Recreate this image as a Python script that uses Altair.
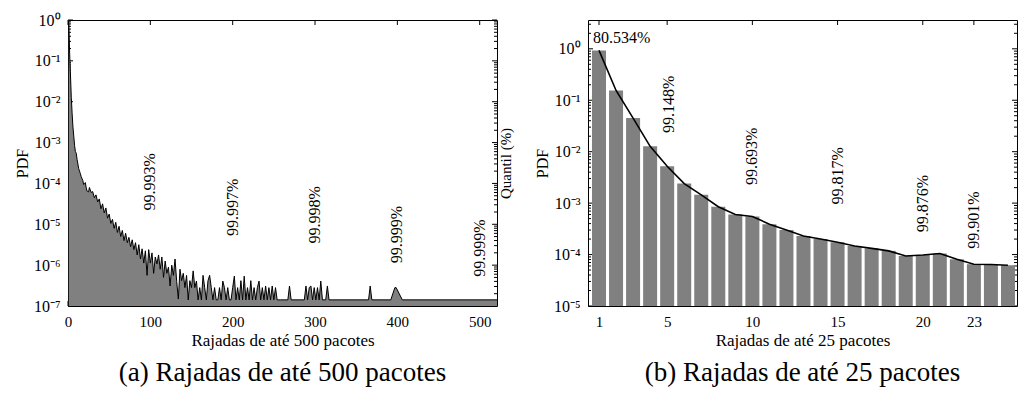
import altair as alt
import pandas as pd

FONT = "Liberation Serif"
GRAY = "#808080"
W, H = 429, 286

# ---------------- panel (b): bursts up to 25 packets ----------------
burst_b = list(range(1, 26))
pdf_b = [0.93, 0.155, 0.045, 0.0127, 0.0052, 0.0024, 0.00145, 0.00085, 0.0006,
         0.00055, 0.00039, 0.0003, 0.00023, 0.0002, 0.000174, 0.000147, 0.000132,
         0.000118, 0.000094, 0.000098, 0.000105, 0.000081, 0.000065, 0.000064,
         0.000062]
q_b_x = [5.1, 10, 15, 20, 23]
q_b_y = [0.083, 0.0081, 0.0034, 0.00098, 0.00047]
q_b_text = ["99.148%", "99.693%", "99.817%", "99.876%", "99.901%"]
q_b_top_x = [0.65]
q_b_top_y = [1.64]
q_b_top_text = ["80.534%"]
xticks_b = [1, 5, 10, 15, 20, 23]

# ---------------- panel (a): bursts up to 500 packets ----------------
# tail (x >= 26) read as log10(PDF)
tail_x_a = [26, 28, 30, 32, 34, 36, 38, 40, 42, 44, 46, 48, 50, 52, 54, 56, 58, 60,
            62, 64, 66, 68, 70, 72, 74, 76, 78, 80, 82, 84, 86, 88, 90, 92, 94, 96,
            98, 100, 102, 104, 106, 108, 110, 112, 114, 116, 118, 120, 122, 124,
            126, 128, 130, 132, 134, 136, 138, 140, 142, 144, 146, 148, 150, 152,
            154, 156, 158, 160, 162, 164, 166, 168, 170, 172, 174, 176, 178, 180,
            182, 184, 186, 188, 190, 192, 194, 196, 198, 200, 202, 204, 206, 208,
            210, 212, 214, 216, 218, 220, 222, 224, 226, 228, 230, 232, 234, 236,
            238, 240, 242, 244, 246, 248, 250, 252, 254, 256, 258, 267, 269, 271,
            287, 289, 291, 293, 295, 297, 299, 301, 303, 305, 307, 309, 313, 315,
            317, 365, 367, 369, 392, 397, 398.5, 406, 521]
tail_log_a = [-4.10, -4.22, -4.20, -4.35, -4.28, -4.45, -4.38, -4.62, -4.50, -4.72,
              -4.60, -4.85, -4.75, -4.98, -4.88, -5.10, -4.95, -5.20, -5.05, -5.30,
              -5.15, -5.40, -5.22, -5.45, -5.32, -5.55, -5.38, -5.62, -5.45, -5.75,
              -5.50, -5.85, -5.60, -5.95, -5.65, -6.25, -5.62, -5.95, -5.70, -6.20,
              -5.80, -5.97, -5.75, -6.10, -5.80, -6.30, -5.90, -6.20, -6.05, -6.51,
              -6.00, -6.25, -5.85, -6.40, -6.83, -6.10, -6.38, -6.20, -6.55, -6.25,
              -6.85, -6.38, -6.55, -6.14, -6.55, -6.39, -6.85, -6.55, -6.85, -6.25,
              -6.55, -6.85, -6.38, -6.25, -6.55, -6.85, -6.55, -6.85, -6.85, -6.55,
              -6.85, -6.39, -6.55, -6.85, -6.55, -6.85, -6.85, -6.55, -6.27, -6.85,
              -6.55, -6.85, -6.38, -6.85, -6.27, -6.85, -6.55, -6.85, -6.38, -6.85,
              -6.55, -6.85, -6.55, -6.39, -6.85, -6.55, -6.85, -6.51, -6.85, -6.55,
              -6.85, -6.51, -6.85, -6.55, -6.85, -6.85, -6.85, -6.85, -6.51, -6.85,
              -6.85, -6.51, -6.85, -6.55, -6.51, -6.85, -6.55, -6.85, -6.55, -6.85,
              -6.39, -6.85, -6.85, -6.51, -6.85, -6.85, -6.51, -6.85, -6.85, -6.55,
              -6.55, -6.85, -6.85]
burst_a = burst_b + tail_x_a
pdf_a = pdf_b + [10 ** e for e in tail_log_a]
q_a_x = [100, 200, 300, 400, 500]
q_a_y = [1.1e-4, 2.6e-5, 1.7e-5, 5.6e-6, 2.6e-6]
q_a_text = ["99.993%", "99.997%", "99.998%", "99.999%", "99.999%"]
xticks_a = [0, 100, 200, 300, 400, 500]

SUP = "['⁰','⁻¹','⁻²','⁻³','⁻⁴','⁻⁵','⁻⁶','⁻⁷']"
LABEL_EXPR = "'10' + " + SUP + "[-round(log(datum.value)/LN10)]"


def tick_layers(xs, ys, xticks, ymin_exp, ymax):
    major = [10.0 ** (-k) for k in range(0, -ymin_exp + 1)]
    minor = [m * 10.0 ** (-k) for k in range(1, -ymin_exp + 1) for m in range(2, 10)]
    minor += [m * 1.0 for m in range(2, 10) if m <= ymax]
    dmaj = pd.DataFrame({"v": major})
    dmin = pd.DataFrame({"v": minor})
    dx = pd.DataFrame({"v": xticks})
    r = lambda d: alt.Chart(d).mark_rule(color="black", strokeWidth=1)
    yv = alt.Y("v:Q", scale=ys, axis=None)
    xv = alt.X("v:Q", scale=xs, axis=None)
    return [
        r(dmaj).encode(y=yv, x=alt.value(0), x2=alt.value(5)),
        r(dmaj).encode(y=yv, x=alt.value(W), x2=alt.value(W - 5)),
        r(dmin).encode(y=yv, x=alt.value(0), x2=alt.value(3)),
        r(dmin).encode(y=yv, x=alt.value(W), x2=alt.value(W - 3)),
        r(dx).encode(x=xv, y=alt.value(0), y2=alt.value(5)),
        r(dx).encode(x=xv, y=alt.value(H), y2=alt.value(H - 5)),
    ]


def y_axis(vals):
    return alt.Axis(orient="left", values=vals, labelExpr=LABEL_EXPR, ticks=False,
                    domain=False, grid=False, title="PDF", titlePadding=2,
                    labelPadding=8, labelFlush=False, labelOverlap=False,
                    labelFontSize=16, titleFontSize=16, minExtent=36,
                    maxExtent=36)


def x_axis(vals, title):
    return alt.Axis(orient="bottom", values=vals, ticks=False, domain=False,
                    grid=False, title=title, labelPadding=8, titlePadding=3,
                    labelFlush=False, labelOverlap=False, labelFontSize=15,
                    titleFontSize=17)


def right_axis(size, pad):
    return alt.Axis(orient="right", labels=False, ticks=False, domain=False,
                    grid=False, title="Quantil (%)", titlePadding=pad,
                    titleAngle=270, titleBaseline="top", titleFontSize=size,
                    minExtent=0, maxExtent=0)


def caption(text):
    return alt.TitleParams(text, orient="bottom", anchor="middle", font=FONT,
                           fontSize=27, fontWeight="normal", color="black",
                           offset=12)


# ---------- panel (a) ----------
xs_a = alt.Scale(domain=[0, 521], nice=False, zero=False, padding=0)
ys_a = alt.Scale(type="log", domain=[1e-7, 1], nice=False, padding=0)
df_a = pd.DataFrame({"x": burst_a, "pdf": pdf_a})
lab_a = pd.DataFrame({"x": q_a_x, "y": q_a_y, "t": q_a_text})

area_a = alt.Chart(df_a).mark_area(color=GRAY, clip=True).encode(
    x=alt.X("x:Q", scale=xs_a, axis=None),
    y=alt.Y("pdf:Q", scale=ys_a, axis=None),
    y2=alt.datum(1e-7),
)
line_a = alt.Chart(df_a).mark_line(color="black", strokeWidth=1, clip=True).encode(
    x=alt.X("x:Q", scale=xs_a, axis=x_axis(xticks_a, "Rajadas de até 500 pacotes")),
    y=alt.Y("pdf:Q", scale=ys_a, axis=y_axis([10.0 ** (-k) for k in range(8)])),
)
text_a = alt.Chart(lab_a).mark_text(angle=270, font=FONT, fontSize=16,
                                    align="center", baseline="middle",
                                    color="black").encode(
    x=alt.X("x:Q", scale=xs_a, axis=None),
    y=alt.Y("y:Q", scale=ys_a, axis=None),
    text="t:N",
)
raxis_a = alt.Chart(df_a).mark_point(opacity=0, size=1).encode(
    x=alt.X("x:Q", scale=xs_a, axis=None),
    y=alt.Y("pdf:Q", scale=ys_a, axis=right_axis(15, 1)),
)
panel_a = alt.layer(
    *tick_layers(xs_a, ys_a, xticks_a, -7, 1), area_a, line_a, text_a, raxis_a
).resolve_axis(x="independent", y="independent").properties(
    width=W, height=H, title=caption("(a) Rajadas de até 500 pacotes"),
)

# ---------- panel (b) ----------
xs_b = alt.Scale(domain=[0.354, 25.53], nice=False, zero=False, padding=0)
ys_b = alt.Scale(type="log", domain=[1e-5, 3.63], nice=False, padding=0)
df_b = pd.DataFrame({"x": burst_b, "pdf": pdf_b})
lab_b = pd.DataFrame({"x": q_b_x, "y": q_b_y, "t": q_b_text})
lab_b_top = pd.DataFrame({"x": q_b_top_x, "y": q_b_top_y, "t": q_b_top_text})

bars_b = alt.Chart(df_b).mark_bar(color=GRAY, size=14).encode(
    x=alt.X("x:Q", scale=xs_b, axis=None),
    y=alt.Y("pdf:Q", scale=ys_b, axis=None),
    y2=alt.datum(1e-5),
)
line_b = alt.Chart(df_b).mark_line(color="black", strokeWidth=1.6).encode(
    x=alt.X("x:Q", scale=xs_b, axis=x_axis(xticks_b, "Rajadas de até 25 pacotes")),
    y=alt.Y("pdf:Q", scale=ys_b, axis=y_axis([10.0 ** (-k) for k in range(6)])),
)
text_b = alt.Chart(lab_b).mark_text(angle=270, font=FONT, fontSize=16,
                                    align="center", baseline="middle",
                                    color="black").encode(
    x=alt.X("x:Q", scale=xs_b, axis=None),
    y=alt.Y("y:Q", scale=ys_b, axis=None),
    text="t:N",
)
text_b_top = alt.Chart(lab_b_top).mark_text(font=FONT, fontSize=16, align="left",
                                            baseline="middle",
                                            color="black").encode(
    x=alt.X("x:Q", scale=xs_b, axis=None),
    y=alt.Y("y:Q", scale=ys_b, axis=None),
    text="t:N",
)
# the right-hand "Quantil (%)" title of panel (b) falls at the page edge in the
# reference (mostly cut off), so it is left out here to keep the page width
panel_b = alt.layer(
    *tick_layers(xs_b, ys_b, xticks_b, -5, 3.63), bars_b, line_b, text_b,
    text_b_top
).resolve_axis(x="independent", y="independent").properties(
    width=W, height=H, title=caption("(b) Rajadas de até 25 pacotes"),
)

chart = alt.hconcat(panel_a, panel_b, spacing=19).configure_view(
    stroke="black", strokeWidth=1
).configure_axis(
    labelFont=FONT, titleFont=FONT, titleFontWeight="normal",
    labelColor="black", titleColor="black",
).properties(
    background="white",
    padding={"left": 5, "right": 0, "top": 3, "bottom": 2},
)

chart.save("out.html", embed_options={"renderer": "svg", "actions": False})
